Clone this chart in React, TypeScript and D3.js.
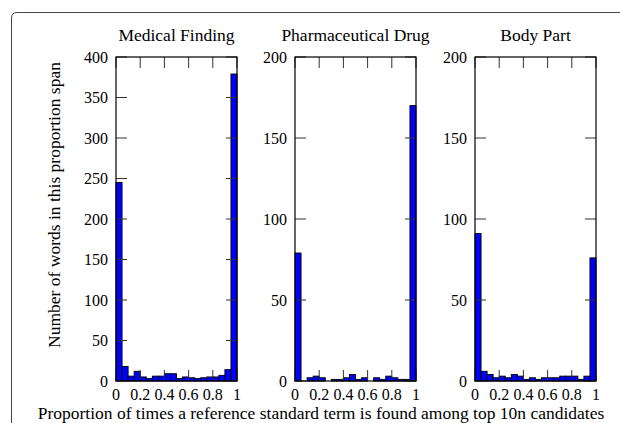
import React from "react";
import * as d3 from "d3";

// histogram counts, 20 bins of width 0.05 over [0, 1]
const panelTitles = ["Medical Finding", "Pharmaceutical Drug", "Body Part"];
const medicalFinding = [245, 18, 6, 12, 5, 3, 6, 6, 9, 9, 3, 5, 4, 3, 4, 5, 5, 7, 14, 379];
const pharmaceuticalDrug = [79, 0, 2, 3, 2, 0, 1, 1, 2, 4, 1, 2, 0, 2, 1, 3, 2, 1, 1, 170];
const bodyPart = [91, 6, 4, 2, 3, 2, 4, 3, 1, 2, 1, 2, 2, 2, 3, 3, 3, 1, 3, 76];
const yMax = [400, 200, 200];
const yTickValues = [
  [0, 50, 100, 150, 200, 250, 300, 350, 400],
  [0, 50, 100, 150, 200],
  [0, 50, 100, 150, 200],
];
const xTickValues = [0, 0.2, 0.4, 0.6, 0.8, 1];
const binWidth = 0.05;

const W = 620;
const H = 423;
const FONT = "'Liberation Serif', 'Times New Roman', serif";
const FS = 17.5; // titles and axis labels
const TFS = 16; // tick labels
const TOP = 57;
const BOTTOM = 381;
const panelLeft = [116, 295, 475];
const panelW = 121;
const TICK = 11;

const Panel = ({ idx, counts }: { idx: number; counts: number[] }) => {
  const x0 = panelLeft[idx];
  const x = d3.scaleLinear().domain([0, 1]).range([x0, x0 + panelW]);
  const y = d3.scaleLinear().domain([0, yMax[idx]]).range([BOTTOM, TOP]);

  return (
    <g>
      <text x={(x(0) + x(1)) / 2} y={41} textAnchor="middle" fontSize={FS} fontFamily={FONT}>
        {panelTitles[idx]}
      </text>
      {counts.map((c, i) => (
        <rect
          key={i}
          x={x(i * binWidth)}
          y={y(c)}
          width={x((i + 1) * binWidth) - x(i * binWidth)}
          height={y(0) - y(c)}
          fill="#0000ff"
          stroke="#000"
          strokeWidth={0.9}
        />
      ))}
      {yTickValues[idx].map((t) => (
        <g key={"y" + t}>
          <line x1={x(0)} x2={x(0) + TICK} y1={y(t)} y2={y(t)} stroke="#333" />
          <line x1={x(1)} x2={x(1) - TICK} y1={y(t)} y2={y(t)} stroke="#333" />
          <text x={x(0) - 8} y={y(t)} dy="0.35em" textAnchor="end" fontSize={TFS} fontFamily={FONT}>
            {t}
          </text>
        </g>
      ))}
      {xTickValues.map((t) => (
        <g key={"x" + t}>
          <line x1={x(t)} x2={x(t)} y1={y(0)} y2={y(0) - TICK} stroke="#333" />
          <line x1={x(t)} x2={x(t)} y1={TOP} y2={TOP + TICK} stroke="#333" />
          <text x={x(t)} y={BOTTOM + 19} textAnchor="middle" fontSize={TFS} fontFamily={FONT}>
            {t}
          </text>
        </g>
      ))}
      <rect x={x(0)} y={TOP} width={panelW} height={BOTTOM - TOP} fill="none" stroke="#000" strokeWidth={1.2} />
    </g>
  );
};

export default function App() {
  const series = [medicalFinding, pharmaceuticalDrug, bodyPart];
  return (
    <svg width={W} height={H} style={{ position: "absolute", left: 0, top: 0, background: "#fff" }}>
      <path d={`M11.5,${H + 5} L11.5,18 Q11.5,12.5 17,12.5 L${W + 5},12.5`} fill="none" stroke="#444" />
      {series.map((s, i) => (
        <Panel key={i} idx={i} counts={s} />
      ))}
      <text
        transform="translate(54,205) rotate(-90)"
        textAnchor="middle"
        dy="0.35em"
        fontSize={FS}
        fontFamily={FONT}
      >
        Number of words in this proportion span
      </text>
      <text x={321} y={418.5} textAnchor="middle" fontSize={FS} fontFamily={FONT}>
        Proportion of times a reference standard term is found among top 10n candidates
      </text>
    </svg>
  );
}
